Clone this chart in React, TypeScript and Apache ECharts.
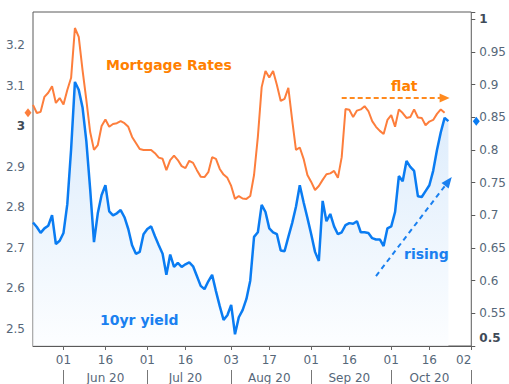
import React, { useEffect, useRef } from "react";
import * as echarts from "echarts";

// ---- categories: US bond-market trading days ----
const startDate = "2020-05-19";
const endDate = "2020-11-02";
const holidays = ["2020-05-25", "2020-07-03", "2020-09-07", "2020-10-12"];
const monthNames = ["Jan", "Feb", "Mar", "Apr", "May", "Jun", "Jul", "Aug", "Sep", "Oct", "Nov", "Dec"];

function buildTradingDays(): string[] {
  const out: string[] = [];
  const d = new Date(startDate + "T00:00:00Z");
  const end = new Date(endDate + "T00:00:00Z");
  while (d.getTime() <= end.getTime()) {
    const s = d.toISOString().slice(0, 10);
    const wd = d.getUTCDay();
    if (wd !== 0 && wd !== 6 && holidays.indexOf(s) < 0) out.push(s);
    d.setUTCDate(d.getUTCDate() + 1);
  }
  return out;
}
const categories = buildTradingDays();

// ---- series values ----
const mortgageRates = [
  3.052, 3.032, 3.035, 3.072, 3.082, 3.098, 3.057, 3.069, 3.053, 3.089,
  3.119, 3.242, 3.22, 3.138, 3.064, 2.985, 2.941, 2.953, 3.0, 3.016,
  2.998, 3.005, 3.007, 3.012, 3.007, 2.998, 2.973, 2.958, 2.943, 2.941,
  2.941, 2.941, 2.933, 2.922, 2.919, 2.891, 2.916, 2.927, 2.916, 2.901,
  2.896, 2.914, 2.909, 2.891, 2.875, 2.874, 2.886, 2.923, 2.919, 2.894,
  2.88, 2.872, 2.852, 2.82, 2.827, 2.821, 2.82, 2.827, 2.879, 2.973,
  3.096, 3.136, 3.12, 3.136, 3.101, 3.062, 3.067, 3.094, 3.015, 2.941,
  2.947, 2.919, 2.879, 2.862, 2.842, 2.852, 2.867, 2.881, 2.883, 2.889,
  2.872, 2.923, 3.042, 3.04, 3.022, 3.038, 3.041, 3.049, 3.037, 3.012,
  2.998, 2.988, 2.98, 3.015, 3.027, 2.998, 3.041, 3.032, 3.02, 3.022,
  3.041, 3.021, 3.02, 3.002, 3.011, 3.015, 3.03, 3.041, 3.033,
];

const tenYearYield = [
  0.689, 0.682, 0.673, 0.68, 0.684, 0.7, 0.656, 0.661, 0.673, 0.717,
  0.801, 0.904, 0.892, 0.865, 0.813, 0.74, 0.659, 0.703, 0.731, 0.746,
  0.706, 0.7, 0.703, 0.708, 0.697, 0.679, 0.654, 0.641, 0.644, 0.671,
  0.679, 0.683, 0.668, 0.654, 0.641, 0.609, 0.64, 0.621, 0.627, 0.621,
  0.625, 0.628, 0.622, 0.607, 0.592, 0.587, 0.599, 0.609, 0.584, 0.561,
  0.54, 0.547, 0.563, 0.518, 0.544, 0.555, 0.572, 0.6, 0.667, 0.674,
  0.716, 0.705, 0.68, 0.674, 0.671, 0.646, 0.645, 0.667, 0.688, 0.713,
  0.746, 0.72, 0.696, 0.671, 0.644, 0.63, 0.722, 0.691, 0.702, 0.683,
  0.671, 0.674, 0.685, 0.688, 0.687, 0.691, 0.674, 0.674, 0.673, 0.665,
  0.663, 0.663, 0.653, 0.68, 0.683, 0.705, 0.76, 0.752, 0.783, 0.774,
  0.768, 0.729, 0.728, 0.737, 0.746, 0.768, 0.8, 0.827, 0.849, 0.844,
];

const pad = (arr: number[]) => categories.map((_, i) => (i < arr.length ? arr[i] : null));

// tick helpers
const mon = (s: string) => +s.slice(5, 7);
const day = (s: string) => +s.slice(8, 10);
const isMonthStart = (i: number) => i > 0 && mon(categories[i]) !== mon(categories[i - 1]);
const isMidMonth = (i: number) => i > 0 && day(categories[i]) >= 16 && day(categories[i - 1]) < 16;
const isDayTick = (i: number) => isMonthStart(i) || isMidMonth(i);

const labelColor = "#566779";
const orange = "#fd7e3c";
const orangeText = "#ff8000";
const blue = "#0a7cf2";
const blueText = "#1a80f0";

export default function App() {
  const ref = useRef<HTMLDivElement>(null);
  useEffect(() => {
    if (!ref.current) return;
    const chart = echarts.init(ref.current, undefined, { renderer: "svg" });
    const lastO = mortgageRates[mortgageRates.length - 1];
    const lastB = tenYearYield[tenYearYield.length - 1];
    const textFont = 'bold 14px "DejaVu Sans"';
    chart.setOption({
      animation: false,
      backgroundColor: "#ffffff",
      textStyle: { fontFamily: "DejaVu Sans" },
      grid: { left: 33, right: 37, top: 12, bottom: 38, show: true, borderColor: "#5a5a5a", borderWidth: 1, backgroundColor: "transparent" },
      xAxis: [
        {
          type: "category",
          data: categories,
          boundaryGap: false,
          position: "bottom",
          axisLine: { show: true, lineStyle: { color: "#5a5a5a" } },
          axisTick: { show: true, interval: (i: number) => isDayTick(i), length: 4, lineStyle: { color: "#666" } },
          axisLabel: {
            interval: (i: number) => isDayTick(i),
            formatter: (v: string) => v.slice(8, 10),
            color: labelColor,
            fontSize: 12,
            margin: 8,
            alignMaxLabel: "right",
          },
          splitLine: { show: false },
        },
        {
          type: "category",
          data: categories,
          boundaryGap: false,
          position: "bottom",
          offset: 24,
          axisLine: { show: false },
          axisTick: { show: true, interval: (i: number) => isMonthStart(i), length: 14, lineStyle: { color: "#777" } },
          axisLabel: {
            interval: (i: number) => isMidMonth(i),
            formatter: (v: string) => monthNames[mon(v) - 1] + " " + v.slice(2, 4),
            color: labelColor,
            fontSize: 12,
            margin: 2,
          },
          splitLine: { show: false },
        },
      ],
      yAxis: [
        {
          type: "value",
          position: "left",
          min: 2.4568,
          max: 3.2815,
          minInterval: 0.1,
          maxInterval: 0.1,
          axisLine: { show: false },
          axisTick: { show: false },
          splitLine: { show: false },
          axisLabel: {
            color: labelColor,
            fontSize: 12,
            margin: 8,
            formatter: (v: number) => {
              const r = Math.round(v * 10) / 10;
              if (Math.abs(v - r) > 1e-6) return "";
              return r === 3 ? "{b|3}" : String(r);
            },
            rich: { b: { fontWeight: "bold", color: "#3f4b58", fontSize: 12 } },
          },
        },
        {
          type: "value",
          position: "right",
          min: 0.5,
          max: 1.011,
          minInterval: 0.05,
          maxInterval: 0.05,
          axisLine: { show: false },
          axisTick: { show: true, length: 4, lineStyle: { color: "#5a5a5a" } },
          splitLine: { show: false },
          axisLabel: {
            color: labelColor,
            fontSize: 12,
            margin: 8,
            formatter: (v: number) => {
              const r = Math.round(v * 20) / 20;
              if (Math.abs(v - r) > 1e-6) return "";
              if (r === 0.5) return "{lo|0.5}";
              if (r === 1) return "{b|1}";
              return String(r);
            },
            rich: {
              b: { fontWeight: "bold", color: "#3f4b58", fontSize: 12 },
              lo: { fontWeight: "bold", color: "#3f4b58", fontSize: 12, padding: [0, 0, 16, 0] },
            },
          },
        },
      ],
      series: [
        {
          name: "10yr yield",
          type: "line",
          xAxisIndex: 0,
          yAxisIndex: 1,
          data: pad(tenYearYield),
          showSymbol: false,
          clip: false,
          lineStyle: { color: blue, width: 2.5 },
          itemStyle: { color: blue },
          areaStyle: {
            origin: "start",
            color: new echarts.graphic.LinearGradient(0, 0, 0, 1, [
              { offset: 0, color: "#c9e1fa" },
              { offset: 1, color: "#fbfdff" },
            ]),
          },
          markPoint: {
            silent: true,
            label: { show: false },
            data: [
              { coord: [categories[categories.length - 1], lastB], symbol: "diamond", symbolSize: [7, 9], symbolOffset: [5, 0], itemStyle: { color: blue } },
            ],
          },
          markLine: {
            silent: true,
            symbol: ["none", "triangle"],
            symbolSize: [9, 11],
            label: { show: false },
            lineStyle: { color: blueText, width: 2, type: [5, 4] },
            data: [[{ coord: [categories[90], 0.607] }, { coord: [categories[109], 0.752] }]],
          },
          z: 2,
        },
        {
          name: "Mortgage Rates",
          type: "line",
          xAxisIndex: 0,
          yAxisIndex: 0,
          data: pad(mortgageRates),
          showSymbol: false,
          clip: false,
          lineStyle: { color: orange, width: 2 },
          itemStyle: { color: orange },
          markPoint: {
            silent: true,
            label: { show: false },
            data: [
              { coord: [categories[0], lastO], symbol: "diamond", symbolSize: [7, 9], symbolOffset: [-5, 0], itemStyle: { color: orange } },
            ],
          },
          markLine: {
            silent: true,
            symbol: ["none", "triangle"],
            symbolSize: [9, 10],
            label: { show: false },
            lineStyle: { color: "#ff8a1f", width: 2, type: [5, 3] },
            data: [[{ coord: [categories[81], 3.069] }, { coord: [categories[108], 3.069] }]],
          },
          z: 3,
        },
      ],
      graphic: [
        { type: "text", z: 100, x: 106, y: 65, style: { text: "Mortgage Rates", fill: orangeText, font: textFont, align: "left", verticalAlign: "middle" } },
        { type: "text", z: 100, x: 391, y: 86, style: { text: "flat", fill: orangeText, font: textFont, align: "left", verticalAlign: "middle" } },
        { type: "text", z: 100, x: 100, y: 319.5, style: { text: "10yr yield", fill: blueText, font: textFont, align: "left", verticalAlign: "middle" } },
        { type: "text", z: 100, x: 404, y: 254, style: { text: "rising", fill: blueText, font: textFont, align: "left", verticalAlign: "middle" } },
      ],
    });
    return () => chart.dispose();
  }, []);
  return <div ref={ref} style={{ position: "fixed", left: 0, top: 0, width: 509, height: 384 }} />;
}
